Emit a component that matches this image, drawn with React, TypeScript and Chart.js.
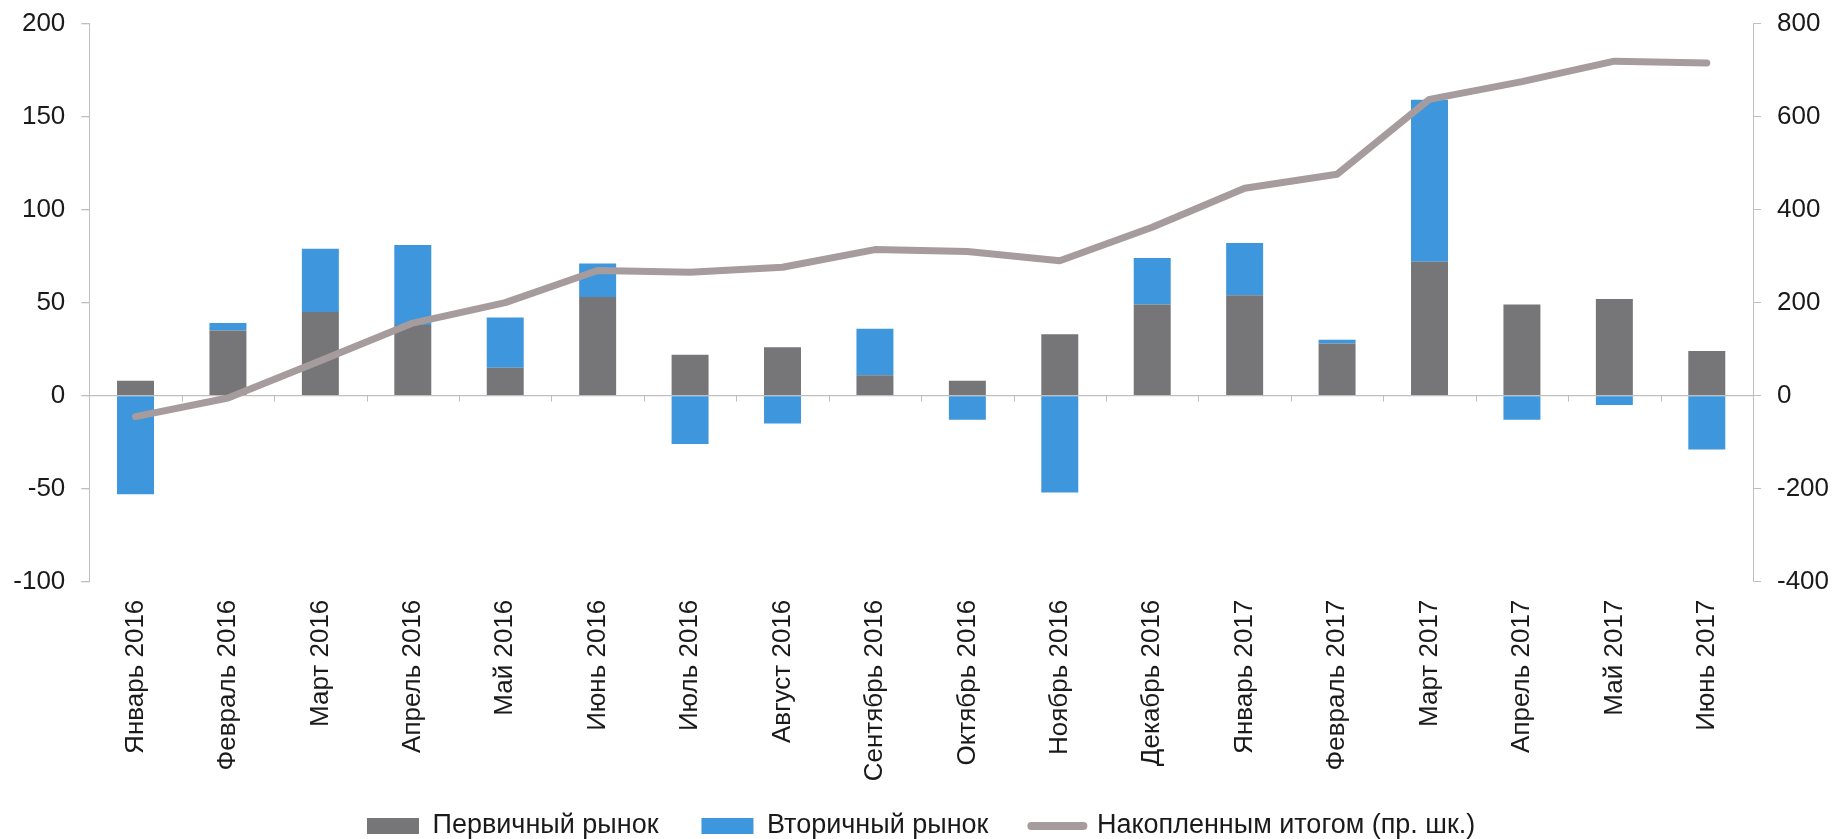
import { useEffect, useRef } from "react";
import { Chart, registerables } from "chart.js";

Chart.register(...registerables);

const categories = [
  "Январь 2016", "Февраль 2016", "Март 2016", "Апрель 2016", "Май 2016", "Июнь 2016",
  "Июль 2016", "Август 2016", "Сентябрь 2016", "Октябрь 2016", "Ноябрь 2016", "Декабрь 2016",
  "Январь 2017", "Февраль 2017", "Март 2017", "Апрель 2017", "Май 2017", "Июнь 2017",
];

const primaryMarket = [8, 35, 45, 38, 15, 53, 22, 26, 11, 8, 33, 49, 54, 28, 72, 49, 52, 24];
const secondaryMarket = [-53, 4, 34, 43, 27, 18, -26, -15, 25, -13, -52, 25, 28, 2, 87, -13, -5, -29];
const cumulativeTotal = [-45, -5, 75, 156, 200, 269, 265, 276, 314, 310, 290, 362, 446, 476, 637, 675, 719, 715];

const leftTickValues = [-100, -50, 0, 50, 100, 150, 200];
const rightTickValues = [-400, -200, 0, 200, 400, 600, 800];

const seriesNames = ["Первичный рынок", "Вторичный рынок", "Накопленным итогом (пр. шк.)"];

const GREY = "#767678";
const BLUE = "#3E96DC";
const LINE = "#A69B9D";
const AXIS = "#BFBFBF";
const TEXT = "#1a1a1a";
const FONT = "'Liberation Sans', Arial, sans-serif";

const zeroTicksPlugin = {
  id: "zeroTicks",
  afterLayout(chart: any) {
    // let rotated category labels extend below the axis box without being clipped
    chart.scales.x.bottom = chart.height;
  },
  beforeDatasetsDraw(chart: any) {
    const x = chart.scales.x;
    const y = chart.scales.y;
    const y0 = y.getPixelForValue(0);
    const ctx = chart.ctx;
    ctx.save();
    ctx.strokeStyle = AXIS;
    ctx.lineWidth = 1;
    ctx.beginPath();
    for (let i = 1; i < categories.length; i++) {
      const px = Math.round((x.getPixelForValue(i - 1) + x.getPixelForValue(i)) / 2) + 0.5;
      ctx.moveTo(px, y0);
      ctx.lineTo(px, y0 + 6);
    }
    ctx.stroke();
    ctx.restore();
  },
};

export default function App() {
  const ref = useRef<HTMLCanvasElement | null>(null);

  useEffect(() => {
    if (!ref.current) return;
    const chart = new Chart(ref.current, {
      type: "bar",
      data: {
        labels: categories,
        datasets: [
          {
            type: "bar",
            label: seriesNames[0],
            data: primaryMarket,
            backgroundColor: GREY,
            yAxisID: "y",
            order: 1,
            categoryPercentage: 1,
            barPercentage: 0.4,
          },
          {
            type: "bar",
            label: seriesNames[1],
            data: secondaryMarket,
            backgroundColor: BLUE,
            yAxisID: "y",
            order: 1,
            categoryPercentage: 1,
            barPercentage: 0.4,
          },
          {
            type: "line",
            label: seriesNames[2],
            data: cumulativeTotal,
            borderColor: LINE,
            backgroundColor: LINE,
            borderWidth: 7,
            pointRadius: 0,
            tension: 0,
            borderCapStyle: "round",
            borderJoinStyle: "round",
            yAxisID: "y2",
            order: 0,
          },
        ] as any,
      },
      options: {
        responsive: false,
        animation: false,
        devicePixelRatio: 1,
        layout: { padding: { top: 23.5, left: 0, right: 0, bottom: -10.5 } },
        plugins: {
          tooltip: { enabled: false },
          legend: {
            position: "bottom",
            fullSize: false,
            labels: {
              usePointStyle: true,
              pointStyleWidth: 52,
              boxHeight: 16,
              padding: 43,
              color: TEXT,
              font: { family: FONT, size: 27 },
              generateLabels: (c: any) =>
                c.data.datasets.map((ds: any, i: number) => {
                  const isLine = ds.type === "line";
                  return {
                    text: ds.label,
                    datasetIndex: i,
                    fillStyle: isLine ? ds.borderColor : ds.backgroundColor,
                    strokeStyle: isLine ? ds.borderColor : ds.backgroundColor,
                    lineWidth: isLine ? 8 : 0,
                    lineCap: "round",
                    pointStyle: isLine ? "line" : "rect",
                    hidden: false,
                    fontColor: TEXT,
                  };
                }),
            },
          },
        },
        scales: {
          x: {
            stacked: true,
            grid: { display: false, drawTicks: false },
            border: { display: false },
            ticks: {
              autoSkip: false,
              maxRotation: 90,
              minRotation: 90,
              padding: 18,
              color: TEXT,
              font: { family: FONT, size: 26 },
            },
            afterFit: (s: any) => {
              s.height = 187.8;
            },
          },
          y: {
            stacked: true,
            position: "left",
            min: leftTickValues[0],
            max: leftTickValues[leftTickValues.length - 1],
            grid: {
              drawOnChartArea: true,
              drawTicks: true,
              tickLength: 8,
              tickColor: AXIS,
              lineWidth: 1.3,
              color: (c: any) => (c.tick && c.tick.value === 0 ? AXIS : "rgba(0,0,0,0)"),
            },
            border: { display: true, color: AXIS, width: 1 },
            ticks: {
              stepSize: leftTickValues[1] - leftTickValues[0],
              padding: 16,
              color: TEXT,
              font: { family: FONT, size: 26 },
            },
            afterFit: (s: any) => {
              s.width = 89.3;
              s.paddingTop = 0;
              s.paddingBottom = 0;
            },
          },
          y2: {
            position: "right",
            min: rightTickValues[0],
            max: rightTickValues[rightTickValues.length - 1],
            grid: {
              drawOnChartArea: false,
              drawTicks: true,
              tickLength: 8,
              tickColor: AXIS,
              color: AXIS,
            },
            border: { display: true, color: AXIS, width: 1 },
            ticks: {
              stepSize: rightTickValues[1] - rightTickValues[0],
              padding: 16,
              color: TEXT,
              font: { family: FONT, size: 26 },
            },
            afterFit: (s: any) => {
              s.width = 80;
              s.paddingTop = 0;
              s.paddingBottom = 0;
            },
          },
        },
      } as any,
      plugins: [zeroTicksPlugin],
    });
    return () => chart.destroy();
  }, []);

  return (
    <div style={{ position: "absolute", left: 0, top: 0, width: 1833, height: 839 }}>
      <canvas ref={ref} width={1833} height={839} />
    </div>
  );
}
